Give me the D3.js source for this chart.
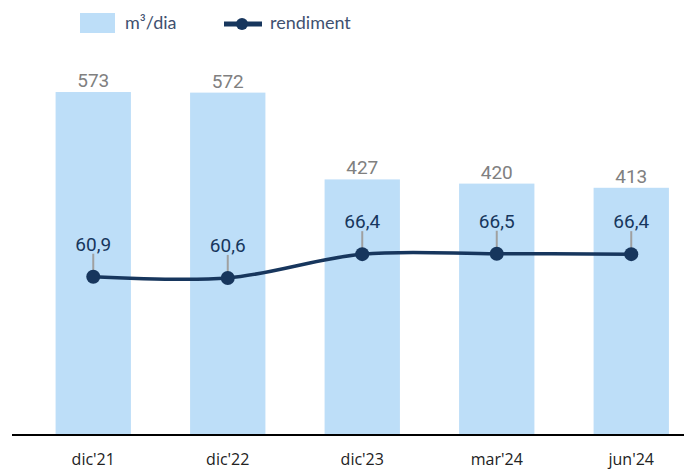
<!DOCTYPE html>
<html>
<head>
<meta charset="utf-8">
<script src="https://cdn.jsdelivr.net/npm/d3@7"></script>
<style>
  html, body { margin: 0; padding: 0; background: #fff; }
  svg { display: block; }
</style>
</head>
<body>
<svg id="chart" width="684" height="469"></svg>
<script>
const categories = ["dic'21", "dic'22", "dic'23", "mar'24", "jun'24"];
const volume = [573, 572, 427, 420, 413];        // m³/dia
const rendiment = [60.9, 60.6, 66.4, 66.5, 66.4];
const fmtComma = (v) => v.toFixed(1).replace(".", ",");

const BAR = "#bddef8";
const LINE = "#17365d";
const GRAY = "#808080";

const svg = d3.select("#chart");

const x = d3.scaleBand()
  .domain(categories)
  .range([26, 698.5])
  .paddingInner(0.44)
  .paddingOuter(0.22);

const y = d3.scaleLinear().domain([0, 700]).range([435, 16]);
const y2 = d3.scaleLinear().domain([50, 80]).range([321.4, 198.4]);

// bars
svg.append("g")
  .selectAll("rect")
  .data(volume)
  .join("rect")
  .attr("x", (d, i) => x(categories[i]))
  .attr("y", (d) => y(d))
  .attr("width", x.bandwidth())
  .attr("height", (d) => y(0) - y(d))
  .attr("fill", BAR);

// bar value labels
svg.append("g")
  .selectAll("text")
  .data(volume)
  .join("text")
  .attr("x", (d, i) => x(categories[i]) + x.bandwidth() / 2)
  .attr("y", (d) => y(d) - 5)
  .attr("text-anchor", "middle")
  .attr("font-family", "Roboto, sans-serif")
  .attr("font-size", 19)
  .attr("fill", GRAY)
  .text((d) => d);

// x axis
const xAxis = svg.append("g")
  .attr("transform", `translate(0,${y(0)})`)
  .call(d3.axisBottom(x).tickSize(0).tickPadding(19));
xAxis.select(".domain").remove();
xAxis.selectAll("text")
  .attr("font-family", "'Open Sans', sans-serif")
  .attr("font-size", 16)
  .attr("fill", "#222");
svg.append("line")
  .attr("x1", 12).attr("x2", 684)
  .attr("y1", y(0)).attr("y2", y(0))
  .attr("stroke", "#000").attr("stroke-width", 2);

// leader lines for line labels
const cx = (i) => x(categories[i]) + x.bandwidth() / 2;
svg.append("g")
  .selectAll("line")
  .data(rendiment)
  .join("line")
  .attr("x1", (d, i) => cx(i)).attr("x2", (d, i) => cx(i))
  .attr("y1", (d) => y2(d) - 23).attr("y2", (d) => y2(d) - 4)
  .attr("stroke", "#a0a0a0").attr("stroke-width", 2);

// line
const line = d3.line()
  .x((d, i) => cx(i))
  .y((d) => y2(d))
  .curve(d3.curveCatmullRom.alpha(0.5));
svg.append("path")
  .datum(rendiment)
  .attr("d", line)
  .attr("fill", "none")
  .attr("stroke", LINE)
  .attr("stroke-width", 3.5);

svg.append("g")
  .selectAll("circle")
  .data(rendiment)
  .join("circle")
  .attr("cx", (d, i) => cx(i))
  .attr("cy", (d) => y2(d))
  .attr("r", 7)
  .attr("fill", LINE);

svg.append("g")
  .selectAll("text")
  .data(rendiment)
  .join("text")
  .attr("x", (d, i) => cx(i))
  .attr("y", (d) => y2(d) - 26)
  .attr("text-anchor", "middle")
  .attr("font-family", "Roboto, sans-serif")
  .attr("font-size", 19)
  .attr("fill", LINE)
  .text((d) => fmtComma(d));

// legend
const legend = svg.append("g")
  .attr("font-family", "Lato, sans-serif")
  .attr("font-size", 18)
  .attr("fill", "#3f5170");
legend.append("rect")
  .attr("x", 80).attr("y", 13).attr("width", 35).attr("height", 20)
  .attr("fill", BAR);
legend.append("text").attr("x", 125).attr("y", 29).text("m³/dia");
legend.append("line")
  .attr("x1", 224).attr("x2", 262).attr("y1", 24).attr("y2", 24)
  .attr("stroke", LINE).attr("stroke-width", 5);
legend.append("circle").attr("cx", 242).attr("cy", 24).attr("r", 6).attr("fill", LINE);
legend.append("text").attr("x", 270).attr("y", 29).text("rendiment");
</script>
</body>
</html>
